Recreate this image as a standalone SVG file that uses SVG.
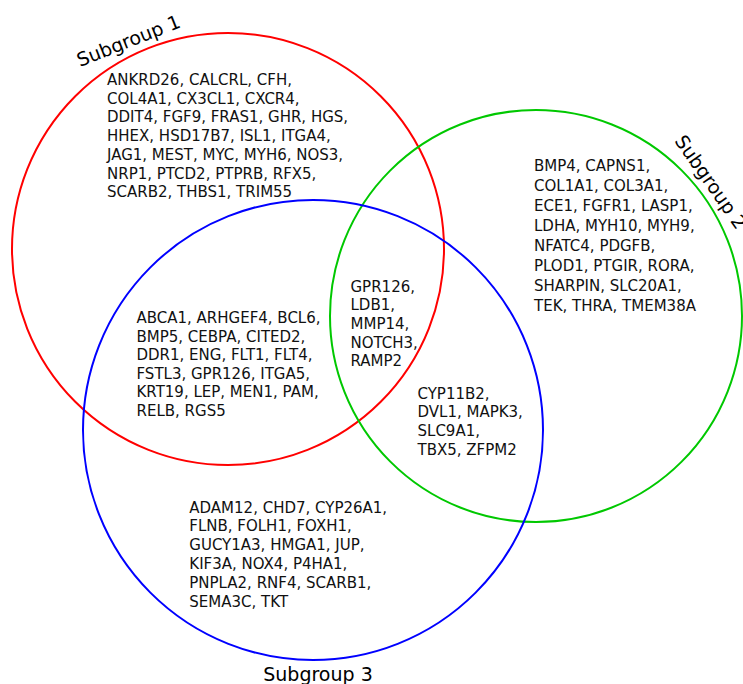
<svg xmlns="http://www.w3.org/2000/svg" width="743" height="684" viewBox="0 0 743 684">
<style>
  .set { fill: none; stroke-width: 2; }
  .genes { font-family: "DejaVu Sans", Verdana, sans-serif; font-size: 15px; fill: #111; }
  .label { font-family: "DejaVu Sans", Verdana, sans-serif; font-size: 19px; fill: #000; }
</style>
<rect width="743" height="684" fill="#fff"/>
<g id="subgroup1">
  <circle class="set" cx="228" cy="249" r="216" stroke="#ff0000"/>
  <text class="label" transform="translate(80,67) rotate(-21.5)">Subgroup 1</text>
</g>
<g id="subgroup2">
  <circle class="set" cx="536" cy="316" r="206" stroke="#00c800"/>
  <text class="label" transform="translate(674,141) rotate(55)">Subgroup 2</text>
</g>
<g id="subgroup3">
  <circle class="set" cx="313" cy="430" r="230" stroke="#0000ff"/>
  <text class="label" x="318" y="681" text-anchor="middle">Subgroup 3</text>
</g>
<g id="only1">
  <text class="genes">
    <tspan x="107" y="85">ANKRD26, CALCRL, CFH,</tspan>
    <tspan x="107" dy="18.7">COL4A1, CX3CL1, CXCR4,</tspan>
    <tspan x="107" dy="18.7">DDIT4, FGF9, FRAS1, GHR, HGS,</tspan>
    <tspan x="107" dy="18.7">HHEX, HSD17B7, ISL1, ITGA4,</tspan>
    <tspan x="107" dy="18.7">JAG1, MEST, MYC, MYH6, NOS3,</tspan>
    <tspan x="107" dy="18.7">NRP1, PTCD2, PTPRB, RFX5,</tspan>
    <tspan x="107" dy="18.7">SCARB2, THBS1, TRIM55</tspan>
  </text>
</g>
<g id="only2">
  <text class="genes">
    <tspan x="534" y="171">BMP4, CAPNS1,</tspan>
    <tspan x="534" dy="20">COL1A1, COL3A1,</tspan>
    <tspan x="534" dy="20">ECE1, FGFR1, LASP1,</tspan>
    <tspan x="534" dy="20">LDHA, MYH10, MYH9,</tspan>
    <tspan x="534" dy="20">NFATC4, PDGFB,</tspan>
    <tspan x="534" dy="20">PLOD1, PTGIR, RORA,</tspan>
    <tspan x="534" dy="20">SHARPIN, SLC20A1,</tspan>
    <tspan x="534" dy="20">TEK, THRA, TMEM38A</tspan>
  </text>
</g>
<g id="sub1and3">
  <text class="genes">
    <tspan x="136.5" y="323">ABCA1, ARHGEF4, BCL6,</tspan>
    <tspan x="136.5" dy="18.6">BMP5, CEBPA, CITED2,</tspan>
    <tspan x="136.5" dy="18.6">DDR1, ENG, FLT1, FLT4,</tspan>
    <tspan x="136.5" dy="18.6">FSTL3, GPR126, ITGA5,</tspan>
    <tspan x="136.5" dy="18.6">KRT19, LEP, MEN1, PAM,</tspan>
    <tspan x="136.5" dy="18.6">RELB, RGS5</tspan>
  </text>
</g>
<g id="sub1and2">
  <text class="genes">
    <tspan x="350.5" y="291.5">GPR126,</tspan>
    <tspan x="350.5" dy="18.7">LDB1,</tspan>
    <tspan x="350.5" dy="18.7">MMP14,</tspan>
    <tspan x="350.5" dy="18.7">NOTCH3,</tspan>
    <tspan x="350.5" dy="18.7">RAMP2</tspan>
  </text>
</g>
<g id="sub2and3">
  <text class="genes">
    <tspan x="417.5" y="398.5">CYP11B2,</tspan>
    <tspan x="417.5" dy="18.7">DVL1, MAPK3,</tspan>
    <tspan x="417.5" dy="18.7">SLC9A1,</tspan>
    <tspan x="417.5" dy="18.7">TBX5, ZFPM2</tspan>
  </text>
</g>
<g id="only3">
  <text class="genes">
    <tspan x="189.3" y="512.5">ADAM12, CHD7, CYP26A1,</tspan>
    <tspan x="189.3" dy="18.8">FLNB, FOLH1, FOXH1,</tspan>
    <tspan x="189.3" dy="18.8">GUCY1A3, HMGA1, JUP,</tspan>
    <tspan x="189.3" dy="18.8">KIF3A, NOX4, P4HA1,</tspan>
    <tspan x="189.3" dy="18.8">PNPLA2, RNF4, SCARB1,</tspan>
    <tspan x="189.3" dy="18.8">SEMA3C, TKT</tspan>
  </text>
</g>
</svg>
